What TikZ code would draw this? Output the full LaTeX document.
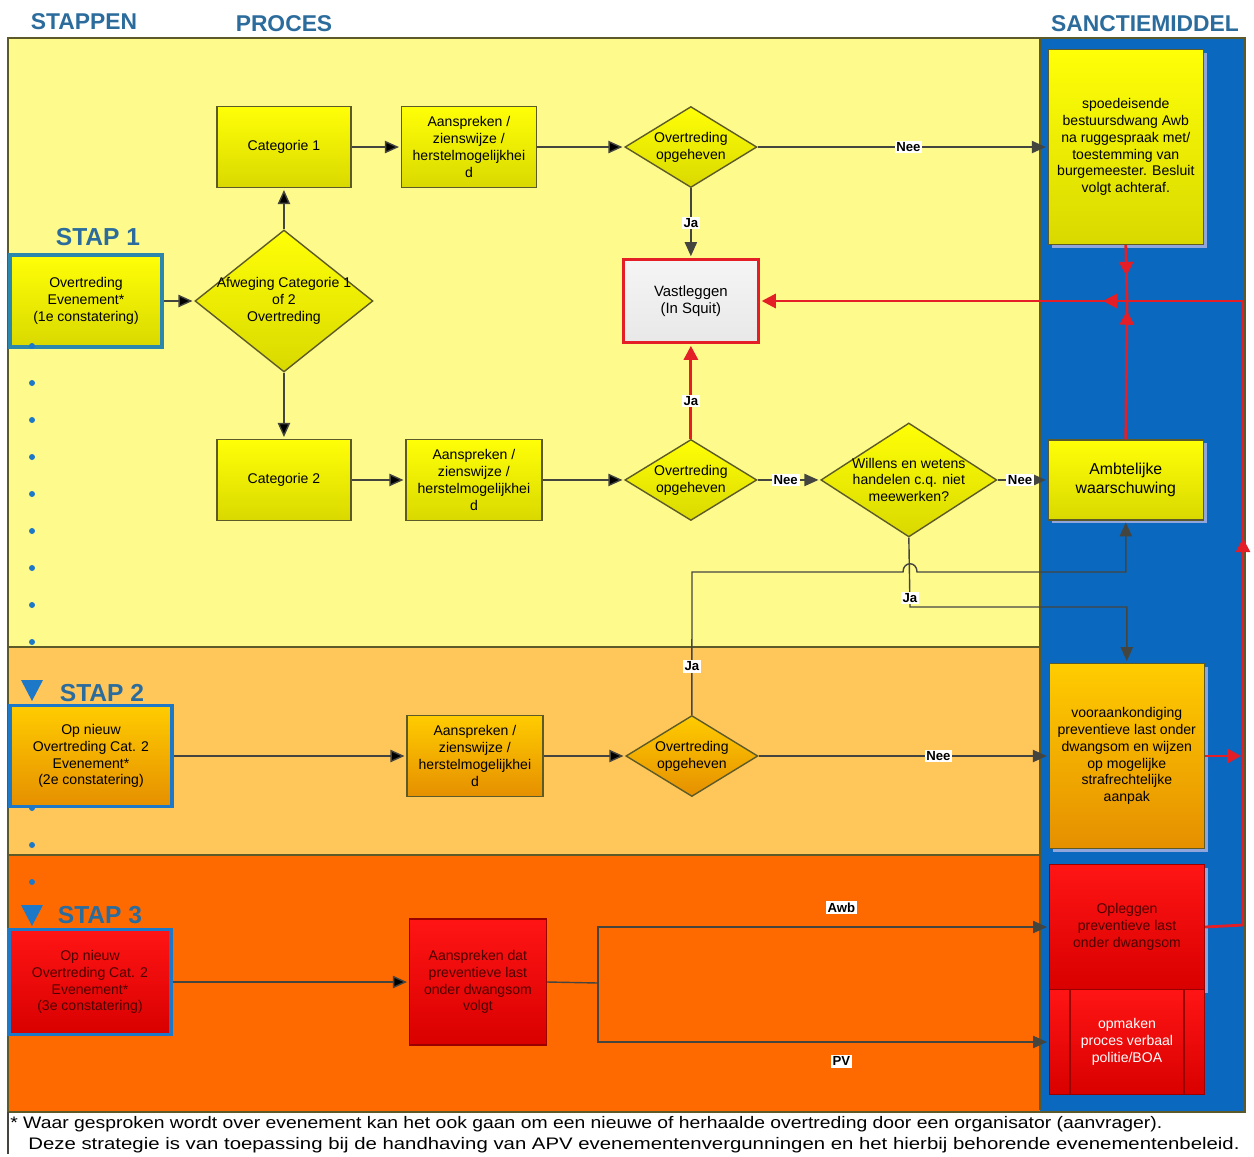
\documentclass[tikz,border=0pt]{standalone}
\usepackage{fontspec}
\setmainfont{Liberation Sans}
\usepackage{graphicx}
\usetikzlibrary{positioning,shapes.geometric,arrows.meta,decorations.markings,shadows}

\definecolor{bandyellow}{HTML}{FFFA8C}
\definecolor{bandorange}{HTML}{FFC65A}
\definecolor{banddark}{HTML}{FF6A00}
\definecolor{colblue}{HTML}{0A68BE}
\definecolor{headblue}{HTML}{2B6C9C}
\definecolor{triblue}{HTML}{1E78C8}
\definecolor{boxline}{HTML}{5C5A28}
\definecolor{linegray}{HTML}{454540}
\definecolor{redline}{HTML}{E41E26}
\definecolor{stepedge}{HTML}{2C87AD}

\tikzset{
  box/.style={rectangle, draw=boxline, line width=0.8pt, top color=yellow!97!white, bottom color=yellow!85!black,
    align=center, inner sep=2pt, font=\fontsize{8}{9.6}\selectfont},
  orangebox/.style={box, top color=orange!40!yellow, bottom color=orange!75!yellow!90!black},
  redbox/.style={box, draw=red!60!black, top color=red!92!white, bottom color=red!85!black},
  ruit/.style={diamond, draw=boxline, line width=0.8pt, top color=yellow!97!white, bottom color=yellow!85!black, inner sep=0pt},
  dtext/.style={align=center, font=\fontsize{8}{9.6}\selectfont},
  stepbox/.style={box, draw=stepedge, line width=1.8pt},
  sanctie/.style={drop shadow={shadow xshift=2pt, shadow yshift=-2pt, fill=cyan!40!blue!45!white, opacity=1}},
  head/.style={text=headblue, font=\bfseries\fontsize{13}{14}\selectfont},
  staplbl/.style={text=headblue, font=\bfseries\fontsize{14}{15}\selectfont},
  pijl/.style={draw=linegray, line width=0.8pt, -{Triangle[length=8pt,width=7pt]}},
  rood/.style={draw=redline, line width=1.6pt},
  roodpijl/.style={rood, -{Triangle[length=8pt,width=8pt]}},
  midpijl/.style={postaction={decorate}, decoration={markings,
    mark=at position #1 with {\arrow[redline]{Triangle[length=8pt,width=8pt]}}}},
  lbl/.style={fill=white, inner sep=1pt, font=\bfseries\fontsize{7.5}{8}\selectfont},
  foot/.style={anchor=west, inner sep=0pt, font=\fontsize{9.5}{11}\selectfont}
}

\begin{document}
\begin{tikzpicture}[x=0.02cm, y=-0.02cm, shorten >= 1pt, on grid]
   \useasboundingbox (0,0) rectangle (1254,1156);
   % bands
   \fill[bandyellow] (8,38) rectangle (1040,647);
   \fill[bandorange] (8,647) rectangle (1040,855);
   \fill[banddark] (8,855) rectangle (1040,1112);
   \fill[colblue] (1040,38) rectangle (1245,1112);
   \draw[boxline, line width=0.8pt] (8,38) rectangle (1245,1112);
   \draw[boxline, line width=0.8pt] (8,647) -- (1040,647) (8,855) -- (1040,855) (1040,38) -- (1040,1112);
   \draw[linegray, line width=0.6pt] (8,1112) -- (8,1156);

   % headers
   \node[head] (h_stap) at (84,22) {STAPPEN};
   \node[head] (h_proc) at (284,24) {PROCES};
   \node[head] (h_sanc) at (1145,24) {SANCTIEMIDDEL};

   % stap 1
   \node[staplbl] (l_1) at (98,237) {STAP 1};
   \node[stepbox, minimum width=3.04cm, minimum height=1.84cm] (st_1) at (86,301) {Overtreding\\Evenement*\\(1e constatering)};
   \node[ruit, minimum width=3.56cm, minimum height=2.84cm,
         label={[dtext]center:Afweging Categorie 1\\of 2\\Overtreding}] (afw) [right=3.96cm of st_1] {};
   \node[box, minimum width=2.68cm, minimum height=1.62cm] (cat_1) [above=3.08cm of afw] {Categorie 1};
   \node[box, minimum width=2.68cm, minimum height=1.62cm] (cat_2) [below=3.58cm of afw] {Categorie 2};
   \node[box, minimum width=2.7cm, minimum height=1.62cm] (asp_1) [right=3.7cm of cat_1] {Aanspreken /\\zienswijze /\\herstelmogelijkhei\\d};
   \node[ruit, minimum width=2.64cm, minimum height=1.62cm,
         label={[dtext]center:Overtreding\\opgeheven}] (opg_1) [right=4.44cm of asp_1] {};
   \node[box, draw=redline, line width=1.8pt, top color=gray!8, bottom color=gray!18, minimum width=2.7cm, minimum height=1.66cm,
         font=\fontsize{8.5}{10}\selectfont] (vast) [below=3.08cm of opg_1] {Vastleggen\\(In Squit)};
   \node[box, sanctie, minimum width=3.1cm, minimum height=3.9cm] (spoed) [right=8.7cm of opg_1]
      {spoedeisende\\bestuursdwang Awb\\na ruggespraak met/\\toestemming van\\burgemeester. Besluit\\volgt achteraf.};
   \node[box, minimum width=2.72cm, minimum height=1.62cm] (asp_2) [right=3.8cm of cat_2] {Aanspreken /\\zienswijze /\\herstelmogelijkhei\\d};
   \node[ruit, minimum width=2.64cm, minimum height=1.62cm,
         label={[dtext]center:Overtreding\\opgeheven}] (opg_2) [right=4.34cm of asp_2] {};
   \node[ruit, minimum width=3.52cm, minimum height=2.28cm,
         label={[dtext]center:Willens en wetens\\handelen c.q. niet\\meewerken?}] (wil) [right=4.36cm of opg_2] {};
   \node[box, sanctie, minimum width=3.1cm, minimum height=1.6cm, font=\fontsize{9}{10.5}\selectfont] (amb) [right=4.34cm of wil] {Ambtelijke\\waarschuwing};

   % stap 2
   \node[staplbl] (l_2) at (102,693) {STAP 2};
   \node[stepbox, top color=orange!40!yellow, bottom color=orange!75!yellow!90!black, draw=triblue,
         minimum width=3.24cm, minimum height=2.02cm] (st_2) at (91,756) {Op nieuw\\Overtreding Cat. 2\\Evenement*\\(2e constatering)};
   \node[orangebox, minimum width=2.72cm, minimum height=1.62cm] (asp_3) [right=7.68cm of st_2] {Aanspreken /\\zienswijze /\\herstelmogelijkhei\\d};
   \node[ruit, top color=orange!40!yellow, bottom color=orange!75!yellow!90!black, minimum width=2.64cm, minimum height=1.62cm,
         label={[dtext]center:Overtreding\\opgeheven}] (opg_3) [right=4.34cm of asp_3] {};
   \node[orangebox, sanctie, minimum width=3.1cm, minimum height=3.7cm] (voor) [right=8.7cm of opg_3]
      {vooraankondiging\\preventieve last onder\\dwangsom en wijzen\\op mogelijke\\strafrechtelijke\\aanpak};

   % stap 3
   \node[staplbl] (l_3) at (100,915) {STAP 3};
   \node[stepbox, top color=red!92!white, bottom color=red!85!black, draw=triblue, text=red!30!black,
         minimum width=3.24cm, minimum height=2.1cm] (st_3) at (90,982) {Op nieuw\\Overtreding Cat. 2\\Evenement*\\(3e constatering)};
   \node[redbox, text=red!30!black, minimum width=2.74cm, minimum height=2.52cm] (aspd) [right=7.76cm of st_3] {Aanspreken dat\\preventieve last\\onder dwangsom\\volgt};
   \node[redbox, sanctie, text=red!30!black, minimum width=3.1cm, minimum height=2.5cm] (opl) at (1127,927) {Opleggen\\preventieve last\\onder dwangsom};
   \node[redbox, minimum width=3.1cm, minimum height=2.1cm] (opm) [below=2.3cm of opl] {};
   \node[draw=red!60!black, line width=0.6pt, minimum width=2.28cm, minimum height=2.1cm, align=center,
         text=white, font=\fontsize{8}{9.6}\selectfont] (opm_in) at (opm) {opmaken\\proces verbaal\\politie/BOA};

   % step dots and markers
   \foreach \y in {346,383,...,642,808,845,882}
      \fill[triblue] (32,\y) circle (3);
   \fill[triblue] (21,680) -- (43,680) -- (32,701) -- cycle;
   \fill[triblue] (21,905) -- (43,905) -- (32,926) -- cycle;

   % connectors
   \coordinate (k_1) at (910,607);
   \coordinate (k_2) at (692,572);
   \coordinate (hop_a) at (903,572);
   \coordinate (hop_b) at (917,572);
   \coordinate (sp) at (598,983);
   \path[pijl]
    (st_1) edge (afw)
    (afw) edge (cat_1)
          edge (cat_2)
    (cat_1) edge (asp_1)
    (asp_1) edge (opg_1)
    (cat_2) edge (asp_2)
    (asp_2) edge (opg_2)
    (st_2) edge (asp_3)
    (asp_3) edge (opg_3)
    (st_3) edge (aspd);
   \draw[pijl] (opg_1.east) -- node[lbl, pos=0.52] {Nee} (opg_1.east -| spoed.west);
   \draw[pijl] (opg_1.south) -- node[lbl] {Ja} (vast.north);
   \draw[pijl] (opg_2.east) -- node[lbl, pos=0.45] {Nee} (wil.west);
   \draw[pijl] (wil.east) -- node[lbl, pos=0.45] {Nee} (amb.west);
   \draw[pijl] (wil.south) -- node[lbl, pos=0.87] {Ja} (k_1) -| (voor.north);
   \draw[pijl] (opg_3.north) -- node[lbl, pos=0.34] {Ja} (k_2) -- (hop_a)
      .. controls (903,561) and (917,561) .. (hop_b) -| (amb.south);
   \draw[pijl] (opg_3.east) -- node[lbl, pos=0.62] {Nee} (voor.west);
   \draw[draw=linegray, line width=0.8pt, shorten >=0pt] (aspd.east) -- (sp);
   \draw[pijl] (sp) |- node[lbl, pos=0.77, above=7pt] {Awb} (opl.west);
   \draw[pijl] (sp) |- node[lbl, pos=0.77, below=7pt] {PV} (opm.west);

   % red lines
   \coordinate (rj) at (1127,301);
   \coordinate (re) at (1243,301);
   \coordinate (rb) at (1243,925);
   \draw[roodpijl] (opg_2.north) -- node[lbl, pos=0.4] {Ja} (vast.south);
   \draw[rood, shorten >=0pt] (opl.east) -- (rb);
   \draw[rood, shorten >=0pt, midpijl=0.62] (rb) -- (re);
   \draw[roodpijl, midpijl=0.29] (re) -- (vast.east);
   \draw[roodpijl] (voor.east) -- (voor.east -| re);
   \draw[rood, shorten >=0pt, midpijl=0.55] (spoed.south) -- (rj);
   \draw[rood, shorten >=0pt, midpijl=0.93] (amb.north) -- (rj);

   % footer
   \node[foot] (f_1) at (10,1124) {\scalebox{1.16}[1]{* Waar gesproken wordt over evenement kan het ook gaan om een nieuwe of herhaalde overtreding door een organisator (aanvrager).}};
   \node[foot] (f_2) at (28,1145) {\scalebox{1.22}[1]{Deze strategie is van toepassing bij de handhaving van APV evenementenvergunningen en het hierbij behorende evenementenbeleid.}};
\end{tikzpicture}
\end{document}
